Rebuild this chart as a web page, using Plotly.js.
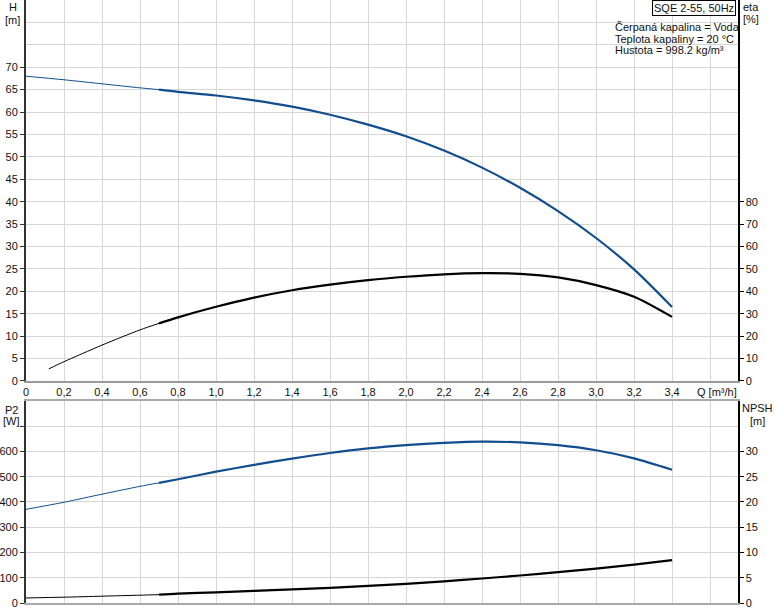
<!DOCTYPE html>
<html>
<head>
<meta charset="utf-8">
<script src="https://cdn.plot.ly/plotly-3.0.1.min.js"></script>
<style>html,body{margin:0;padding:0;background:#fff;}#chart{width:774px;height:611px;}</style>
</head>
<body>
<div id="chart"></div>
<script>
// Flow rate Q [m³/h]
const qMain = [0, 0.2, 0.4, 0.6, 0.7, 0.8, 1.0, 1.2, 1.4, 1.6, 1.8, 2.0, 2.2, 2.4, 2.6, 2.8, 3.0, 3.2, 3.4];
// Head H [m]
const headH = [68, 67.2, 66.3, 65.4, 65.0, 64.5, 63.7, 62.6, 61.2, 59.4, 57.2, 54.6, 51.4, 47.6, 43.1, 37.9, 31.9, 24.9, 16.5];
// Efficiency eta [%]
const qEta = [0.12, 0.2, 0.4, 0.6, 0.7, 0.8, 1.0, 1.2, 1.4, 1.6, 1.8, 2.0, 2.2, 2.4, 2.6, 2.8, 3.0, 3.2, 3.4];
const eta = [5.4, 8.6, 16.0, 22.8, 25.7, 28.4, 33.1, 37.2, 40.5, 43.0, 45.0, 46.5, 47.6, 48.1, 47.8, 46.2, 42.8, 37.6, 28.6];
// Power P2 [W]
const powerP2 = [371, 399, 431, 462, 476, 490, 520, 547, 572, 594, 612, 625, 634, 639, 636, 625, 605, 573, 528];
// NPSH [m]
const npsh = [1.0, 1.15, 1.35, 1.55, 1.65, 1.85, 2.1, 2.4, 2.7, 3.0, 3.4, 3.8, 4.3, 4.85, 5.45, 6.1, 6.8, 7.6, 8.5];
// Thin line up to this Q, thick beyond
const qSplit = 0.7;
// Tick labels
const xTickVals = [0, 0.2, 0.4, 0.6, 0.8, 1.0, 1.2, 1.4, 1.6, 1.8, 2.0, 2.2, 2.4, 2.6, 2.8, 3.0, 3.2, 3.4, 3.6];
const xTickText = ['0', '0,2', '0,4', '0,6', '0,8', '1,0', '1,2', '1,4', '1,6', '1,8', '2,0', '2,2', '2,4', '2,6', '2,8', '3,0', '3,2', '3,4', ''];
const hTicks = [0, 5, 10, 15, 20, 25, 30, 35, 40, 45, 50, 55, 60, 65, 70];
const etaTicks = [0, 10, 20, 30, 40, 50, 60, 70, 80];
const p2Ticks = [0, 100, 200, 300, 400, 500, 600, 700];
const p2TickText = ['0', '100', '200', '300', '400', '500', '600', ''];
const npshTicks = [0, 5, 10, 15, 20, 25, 30];

const blue = '#124e8e';
const black = '#000000';

function split(xs, ys) {
  const thin = {x: [], y: []}, thick = {x: [], y: []};
  xs.forEach((x, i) => {
    if (x <= qSplit) { thin.x.push(x); thin.y.push(ys[i]); }
    if (x >= qSplit) { thick.x.push(x); thick.y.push(ys[i]); }
  });
  return [thin, thick];
}
function pair(xs, ys, color, xa, ya) {
  const [thin, thick] = split(xs, ys);
  return [
    {x: thin.x, y: thin.y, xaxis: xa, yaxis: ya, mode: 'lines', line: {color: color, width: 1, shape: 'spline', smoothing: 0.8}, hoverinfo: 'skip'},
    {x: thick.x, y: thick.y, xaxis: xa, yaxis: ya, mode: 'lines', line: {color: color, width: 2.2, shape: 'spline', smoothing: 0.8}, hoverinfo: 'skip'}
  ];
}

const traces = [].concat(
  pair(qMain, headH, blue, 'x', 'y'),
  pair(qEta, eta, black, 'x', 'y2'),
  pair(qMain, powerP2, blue, 'x2', 'y3'),
  pair(qMain, npsh, black, 'x2', 'y4')
);

const font = {family: 'Liberation Sans, Arial, sans-serif', size: 11, color: '#111'};
const grid = '#d6d6d6';
const xr = [0, 3.747];

const layout = {
  width: 774, height: 611,
  margin: {l: 26, r: 36, t: 0, b: 8},
  paper_bgcolor: '#fff', plot_bgcolor: '#fff',
  showlegend: false,
  font: font,
  xaxis: {
    domain: [0, 1], anchor: 'y', range: xr, tickmode: 'array', tickvals: xTickVals, ticktext: xTickText,
    showgrid: true, gridcolor: grid, gridwidth: 1, zeroline: false,
    showline: true, linecolor: '#9a9a9a', linewidth: 2, ticks: '', tickfont: font
  },
  yaxis: {
    domain: [0.3682, 1], anchor: 'x', range: [0, 85], tickmode: 'array', tickvals: hTicks,
    showgrid: true, gridcolor: grid, gridwidth: 1, zeroline: false,
    minor: {tickvals: [75, 80], showgrid: true, gridcolor: grid, gridwidth: 1, ticks: ''},
    showline: true, linecolor: '#333', linewidth: 2, ticks: 'outside', ticklen: 4, tickcolor: '#333', tickfont: font
  },
  yaxis2: {
    overlaying: 'y', side: 'right', anchor: 'x', range: [0, 170], tickmode: 'array', tickvals: etaTicks,
    showgrid: false, zeroline: false, showline: true, linecolor: '#000', linewidth: 1.5,
    ticks: 'outside', ticklen: 4, tickcolor: '#000', tickfont: font
  },
  xaxis2: {
    domain: [0, 1], anchor: 'y3', range: xr, tickmode: 'array', tickvals: xTickVals,
    showticklabels: false, ticks: '', showgrid: true, gridcolor: grid, gridwidth: 1, zeroline: false,
    showline: true, mirror: true, linecolor: '#aaaaaa', linewidth: 2
  },
  yaxis3: {
    domain: [0, 0.335], anchor: 'x2', range: [0, 800], tickmode: 'array', tickvals: p2Ticks, ticktext: p2TickText,
    showgrid: true, gridcolor: grid, gridwidth: 1, zeroline: false,
    showline: true, linecolor: '#333', linewidth: 2, ticks: 'outside', ticklen: 4, tickcolor: '#333', tickfont: font
  },
  yaxis4: {
    overlaying: 'y3', side: 'right', anchor: 'x2', range: [0, 40], tickmode: 'array', tickvals: npshTicks,
    showgrid: false, zeroline: false, showline: true, linecolor: '#000', linewidth: 1.5,
    ticks: 'outside', ticklen: 4, tickcolor: '#000', tickfont: font
  },
  annotations: [
    {text: 'H', xref: 'paper', yref: 'paper', x: -0.0183, y: 0.988, showarrow: false, font: font, xanchor: 'center', yanchor: 'middle'},
    {text: '[m]', xref: 'paper', yref: 'paper', x: -0.0183, y: 0.967, showarrow: false, font: font, xanchor: 'center', yanchor: 'middle'},
    {text: 'eta', xref: 'paper', yref: 'paper', x: 1.0042, y: 0.988, showarrow: false, font: font, xanchor: 'left', yanchor: 'middle'},
    {text: '[%]', xref: 'paper', yref: 'paper', x: 1.0042, y: 0.9685, showarrow: false, font: font, xanchor: 'left', yanchor: 'middle'},
    {text: 'SQE 2-55, 50Hz', xref: 'paper', yref: 'paper', x: 0.9975, y: 1.0, showarrow: false, font: font, xanchor: 'right', yanchor: 'top',
     bordercolor: '#000', borderwidth: 1, borderpad: 1, bgcolor: '#fff'},
    {text: 'Čerpaná kapalina = Voda', xref: 'paper', yref: 'paper', x: 0.8244, y: 0.9552, showarrow: false, font: font, xanchor: 'left', yanchor: 'middle'},
    {text: 'Teplota kapaliny = 20 °C', xref: 'paper', yref: 'paper', x: 0.8244, y: 0.9353, showarrow: false, font: font, xanchor: 'left', yanchor: 'middle'},
    {text: 'Hustota = 998.2 kg/m³', xref: 'paper', yref: 'paper', x: 0.8244, y: 0.9170, showarrow: false, font: font, xanchor: 'left', yanchor: 'middle'},
    {text: 'Q [m³/h]', xref: 'paper', yref: 'paper', x: 0.9396, y: 0.35, showarrow: false, font: font, xanchor: 'left', yanchor: 'middle'},
    {text: 'P2', xref: 'paper', yref: 'paper', x: -0.0197, y: 0.320, showarrow: false, font: font, xanchor: 'center', yanchor: 'middle'},
    {text: '[W]', xref: 'paper', yref: 'paper', x: -0.0197, y: 0.302, showarrow: false, font: font, xanchor: 'center', yanchor: 'middle'},
    {text: 'NPSH', xref: 'paper', yref: 'paper', x: 1.0267, y: 0.323, showarrow: false, font: font, xanchor: 'center', yanchor: 'middle'},
    {text: '[m]', xref: 'paper', yref: 'paper', x: 1.0267, y: 0.302, showarrow: false, font: font, xanchor: 'center', yanchor: 'middle'}
  ]
};

Plotly.newPlot('chart', traces, layout, {staticPlot: true, displayModeBar: false});
</script>
</body>
</html>
